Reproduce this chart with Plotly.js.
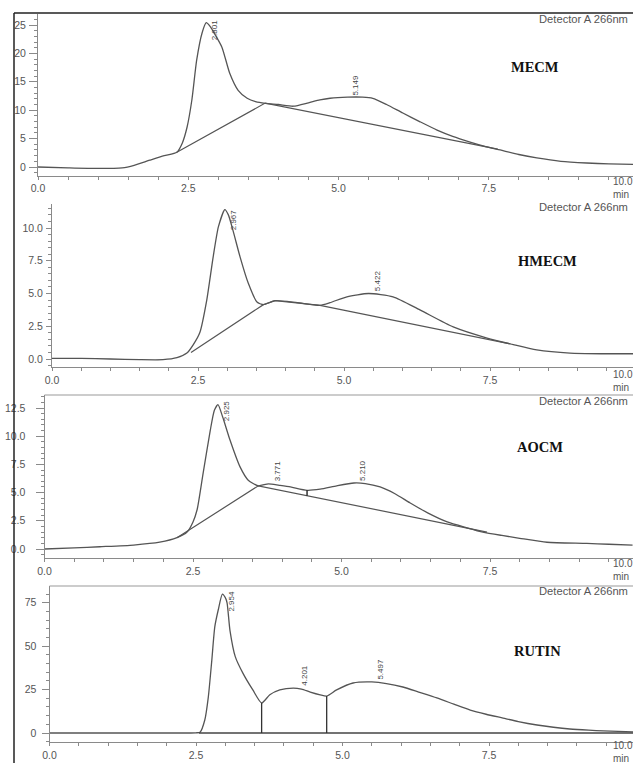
<!DOCTYPE html>
<html>
<head>
<meta charset="utf-8">
<script src="https://cdn.plot.ly/plotly-3.0.1.min.js"></script>
<style>
  html, body { margin: 0; padding: 0; background: #fff; overflow: hidden; }
  #chart { width: 633px; height: 763px; }
</style>
</head>
<body>
<div id="chart"></div>
<script>
// ---------------- DATA ----------------
// MECM
const mecmTime   = [0.0, 0.5, 1.0, 1.4, 1.6, 1.86, 2.1, 2.31, 2.40, 2.48, 2.56, 2.64, 2.73, 2.80, 2.86, 2.92, 3.06, 3.19, 3.33, 3.48, 3.62, 3.78, 4.0, 4.25, 4.5, 4.69, 4.86, 5.15, 5.4, 5.57, 5.8, 6.07, 6.35, 6.64, 6.9, 7.19, 7.45, 7.69, 8.0, 8.3, 8.7, 9.13, 9.5, 9.9];
const mecmSignal = [0.0, -0.15, -0.25, -0.15, 0.3, 1.2, 2.0, 2.6, 4.2, 7.0, 11.8, 18.8, 23.6, 25.4, 24.8, 23.8, 21.1, 16.5, 13.5, 12.1, 11.5, 11.2, 11.0, 10.7, 11.3, 11.8, 12.1, 12.3, 12.3, 12.1, 11.0, 9.5, 8.0, 6.5, 5.4, 4.4, 3.6, 3.0, 2.2, 1.6, 1.0, 0.7, 0.55, 0.45];
const mecmBaseTime   = [2.31, 3.78, 7.65];
const mecmBaseSignal = [2.6, 11.25, 3.15];
const mecmPeakRT     = [2.801, 5.149];
const mecmPeakHeight = [25.4, 12.3];

// HMECM
const hmecmTime   = [0.0, 0.5, 1.0, 1.5, 1.9, 2.14, 2.31, 2.42, 2.53, 2.65, 2.76, 2.85, 2.96, 3.02, 3.1, 3.22, 3.36, 3.51, 3.62, 3.82, 4.2, 4.59, 4.76, 5.05, 5.42, 5.84, 6.3, 6.87, 7.45, 7.9, 8.3, 8.87, 9.4, 9.95];
const hmecmSignal = [0.05, 0.05, 0.0, -0.05, -0.05, 0.1, 0.45, 1.1, 2.0, 4.5, 7.8, 10.1, 11.4, 11.0, 9.8, 7.8, 5.8, 4.35, 4.15, 4.45, 4.3, 4.1, 4.3, 4.75, 5.0, 4.75, 3.75, 2.45, 1.6, 1.1, 0.7, 0.45, 0.4, 0.4];
const hmecmBaseTime   = [2.38, 3.62, 3.82, 4.2, 4.59, 7.85];
const hmecmBaseSignal = [0.5, 4.15, 4.45, 4.3, 4.1, 1.15];
const hmecmPeakRT     = [2.967, 5.422];
const hmecmPeakHeight = [11.4, 5.0];

// AOCM
const aocmTime   = [0.0, 0.5, 0.93, 1.5, 1.94, 2.23, 2.4, 2.5, 2.57, 2.67, 2.79, 2.86, 2.92, 3.0, 3.12, 3.29, 3.43, 3.6, 3.77, 3.95, 4.14, 4.42, 4.64, 4.92, 5.21, 5.4, 5.65, 5.9, 6.15, 6.45, 6.78, 7.1, 7.38, 7.7, 8.0, 8.46, 9.13, 9.5, 9.9];
const aocmSignal = [0.0, 0.1, 0.2, 0.35, 0.6, 1.0, 1.5, 2.4, 3.5, 6.7, 10.5, 12.3, 12.8, 11.7, 9.7, 7.3, 6.1, 5.6, 5.78, 5.65, 5.5, 5.2, 5.3, 5.6, 5.85, 5.8, 5.5, 4.9, 4.1, 3.2, 2.4, 1.9, 1.5, 1.2, 0.95, 0.6, 0.5, 0.42, 0.35];
const aocmBaseTime   = [2.23, 3.6, 7.45];
const aocmBaseSignal = [1.0, 5.6, 1.5];
const aocmPeakRT     = [2.925, 3.771, 5.210];
const aocmPeakHeight = [12.8, 5.78, 5.85];
const aocmMarkTime   = [4.42, 4.42];
const aocmMarkSignal = [4.73, 5.2];

// RUTIN
const rutinTime   = [0.0, 1.0, 2.0, 2.5, 2.57, 2.65, 2.71, 2.77, 2.82, 2.88, 2.95, 3.0, 3.03, 3.08, 3.17, 3.3, 3.47, 3.62, 3.76, 3.93, 4.16, 4.3, 4.45, 4.62, 4.73, 4.9, 5.18, 5.5, 5.75, 6.03, 6.3, 6.61, 6.9, 7.18, 7.45, 7.74, 8.0, 8.32, 8.6, 8.88, 9.2, 9.45, 9.96];
const rutinSignal = [0.0, 0.0, 0.0, 0.1, 0.5, 7.5, 20.7, 42, 61, 71, 80, 78, 75, 59, 44, 34.5, 24.8, 17.3, 22, 24.8, 25.9, 25.3, 23.6, 22, 21.3, 24.8, 28.8, 29.4, 28.5, 26.5, 23.6, 20.2, 16.6, 13.2, 10.8, 8.6, 6.6, 4.6, 3.3, 2.3, 1.6, 1.2, 0.6];
const rutinBaseTime   = [2.55, 9.96];
const rutinBaseSignal = [0.0, 0.0];
const rutinDropTime   = [3.62, 4.73];
const rutinDropSignal = [17.3, 21.3];
const rutinPeakRT     = [2.954, 4.201, 5.497];
const rutinPeakHeight = [80, 25.9, 29.4];

// Tick labels
const xTickVals = [0, 2.5, 5, 7.5];
const xTickText = ['0.0', '2.5', '5.0', '7.5'];
const mecmYTickVals  = [0, 5, 10, 15, 20, 25];
const mecmYTickText  = ['0', '5', '10', '15', '20', '25'];
const hmecmYTickVals = [0, 2.5, 5, 7.5, 10];
const hmecmYTickText = ['0.0', '2.5', '5.0', '7.5', '10.0'];
const aocmYTickVals  = [0, 2.5, 5, 7.5, 10, 12.5];
const aocmYTickText  = ['0.0', '2.5', '5.0', '7.5', '10.0', '12.5'];
const rutinYTickVals = [0, 25, 50, 75];
const rutinYTickText = ['0', '25', '50', '75'];

const panelNames = ['MECM', 'HMECM', 'AOCM', 'RUTIN'];
const detectorText = 'Detector A 266nm';
const lastTickText = '10.0';
const unitText = 'min';

// ---------------- LAYOUT GEOMETRY (pixels) ----------------
const W = 633, H = 763;
const geom = [
  {x0: 38,   xs: 60.1, y0: 167, ys: 5.68,  top: 14,  bot: 175.5, minorY: 1,   tlen: 8, stand: 1, title: [535, 67],  det: 19,  endLab: 188},
  {x0: 52,   xs: 58.4, y0: 359, ys: 13.1,  top: 204, bot: 367,   minorY: 0.5, tlen: 5, stand: 1, title: [547, 261], det: 207, endLab: 381},
  {x0: 44.5, xs: 59.4, y0: 549, ys: 11.28, top: 395, bot: 558,   minorY: 0.5, tlen: 8, stand: 8, title: [540, 447], det: 401, endLab: 570},
  {x0: 49.5, xs: 58.6, y0: 733, ys: 1.736, top: 586, bot: 742,   minorY: 5,   tlen: 7, stand: 3, title: [537, 651], det: 591, endLab: 752}
];

const series = [
  {t: mecmTime,  s: mecmSignal,  bt: mecmBaseTime,  bs: mecmBaseSignal,  rt: mecmPeakRT,  ph: mecmPeakHeight,  yv: mecmYTickVals,  yt: mecmYTickText},
  {t: hmecmTime, s: hmecmSignal, bt: hmecmBaseTime, bs: hmecmBaseSignal, rt: hmecmPeakRT, ph: hmecmPeakHeight, yv: hmecmYTickVals, yt: hmecmYTickText},
  {t: aocmTime,  s: aocmSignal,  bt: aocmBaseTime,  bs: aocmBaseSignal,  rt: aocmPeakRT,  ph: aocmPeakHeight,  yv: aocmYTickVals,  yt: aocmYTickText},
  {t: rutinTime, s: rutinSignal, bt: rutinBaseTime, bs: rutinBaseSignal, rt: rutinPeakRT, ph: rutinPeakHeight, yv: rutinYTickVals, yt: rutinYTickText}
];

const CURVE = '#555';
const AXIS = '#8a8a8a';
const TICKFONT = {family: 'Liberation Sans, Arial, sans-serif', size: 10.5, color: '#555'};

const traces = [];
const layout = {
  width: W, height: H,
  margin: {l: 0, r: 0, t: 0, b: 0},
  paper_bgcolor: '#fff', plot_bgcolor: 'rgba(0,0,0,0)',
  showlegend: false,
  annotations: [], shapes: []
};

series.forEach((d, i) => {
  const g = geom[i];
  const n = i === 0 ? '' : String(i + 1);
  const xa = 'x' + n, ya = 'y' + n;
  const xRange = [0, (W - g.x0) / g.xs];
  const yRange = [(g.y0 - g.bot) / g.ys, (g.y0 - g.top) / g.ys];

  layout['xaxis' + n] = {
    domain: [g.x0 / W, 1], range: xRange, anchor: ya,
    showgrid: false, zeroline: false, showline: true, linecolor: AXIS, linewidth: 1,
    tickmode: 'array', tickvals: xTickVals, ticktext: xTickText,
    ticks: 'outside', ticklen: 3, tickcolor: AXIS, tickfont: TICKFONT,
    minor: {dtick: 0.5, tick0: 0, ticks: 'outside', ticklen: 3, tickcolor: AXIS, showgrid: false},
    fixedrange: true
  };
  layout['yaxis' + n] = {
    domain: [(H - g.bot) / H, (H - g.top) / H], range: yRange, anchor: xa,
    showgrid: false, zeroline: false, showline: true, linecolor: AXIS, linewidth: 1,
    tickmode: 'array', tickvals: d.yv, ticktext: d.yt,
    ticks: 'outside', ticklen: g.tlen, tickcolor: AXIS, tickfont: TICKFONT, ticklabelstandoff: g.stand,
    minor: {dtick: g.minorY, tick0: 0, ticks: 'outside', ticklen: 3, tickcolor: AXIS, showgrid: false},
    fixedrange: true
  };

  // chromatogram
  traces.push({x: d.t, y: d.s, xaxis: xa, yaxis: ya, type: 'scatter', mode: 'lines',
    line: {color: CURVE, width: 1.3, shape: 'spline', smoothing: 0.6}, hoverinfo: 'skip'});
  // integration baseline
  traces.push({x: d.bt, y: d.bs, xaxis: xa, yaxis: ya, type: 'scatter', mode: 'lines',
    line: {color: i === 3 ? '#444' : CURVE, width: i === 3 ? 1.6 : 1.2}, hoverinfo: 'skip'});

  // peak labels
  d.rt.forEach((rt, k) => {
    const apexPx = g.y0 - d.ph[k] * g.ys;
    const labelLen = 20;
    const ann = {
      xref: xa, yref: ya, x: rt, text: rt.toFixed(3), textangle: -90, showarrow: false,
      xanchor: 'center', xshift: 8.5,
      font: {family: 'Liberation Sans, Arial, sans-serif', size: 8, color: '#444'}
    };
    if (apexPx - labelLen < g.top + 3) {
      ann.y = yRange[1]; ann.yanchor = 'top'; ann.yshift = -3;
    } else {
      ann.y = d.ph[k]; ann.yanchor = 'bottom'; ann.yshift = 0;
    }
    layout.annotations.push(ann);
  });

  // panel name
  layout.annotations.push({xref: 'paper', yref: 'paper', x: g.title[0] / W, y: (H - g.title[1]) / H,
    text: '<b>' + panelNames[i] + '</b>', showarrow: false, xanchor: 'center', yanchor: 'middle',
    font: {family: 'Liberation Serif, Times New Roman, serif', size: 14.5, color: '#111'}});
  // detector text
  layout.annotations.push({xref: 'paper', yref: 'paper', x: 537 / W, y: (H - g.det) / H,
    text: detectorText, showarrow: false, xanchor: 'left', yanchor: 'middle',
    font: {family: 'Liberation Sans, Arial, sans-serif', size: 11.2, color: '#555'}});
  // last tick label + unit
  layout.annotations.push({xref: 'paper', yref: 'paper', x: 611 / W, y: (H - g.endLab) / H,
    text: lastTickText + '<br>' + unitText, showarrow: false, xanchor: 'left', yanchor: 'middle', align: 'left',
    font: {family: 'Liberation Sans, Arial, sans-serif', size: 10, color: '#555'}});

  // top border lines for panels 3 and 4
  if (i >= 2) {
    layout.shapes.push({type: 'line', xref: 'paper', yref: 'paper',
      x0: g.x0 / W, x1: 1, y0: (H - g.top) / H, y1: (H - g.top) / H,
      line: {color: '#999', width: 1.2}});
  }
});

// AOCM valley mark
traces.push({x: aocmMarkTime, y: aocmMarkSignal, xaxis: 'x3', yaxis: 'y3', type: 'scatter', mode: 'lines',
  line: {color: '#222', width: 1.4}, hoverinfo: 'skip'});
// RUTIN drop lines
rutinDropTime.forEach((t, k) => {
  traces.push({x: [t, t], y: [0, rutinDropSignal[k]], xaxis: 'x4', yaxis: 'y4', type: 'scatter', mode: 'lines',
    line: {color: '#333', width: 1.3}, hoverinfo: 'skip'});
});

// outer frame lines (top of first panel and left edge)
layout.shapes.push({type: 'line', xref: 'paper', yref: 'paper', x0: 14 / W, x1: 1, y0: (H - 13) / H, y1: (H - 13) / H,
  line: {color: '#222', width: 1.5}});
layout.shapes.push({type: 'line', xref: 'paper', yref: 'paper', x0: 14 / W, x1: 14 / W, y0: 0, y1: (H - 13) / H,
  line: {color: '#222', width: 1.5}});

Plotly.newPlot('chart', traces, layout, {staticPlot: true, displayModeBar: false});
</script>
</body>
</html>
